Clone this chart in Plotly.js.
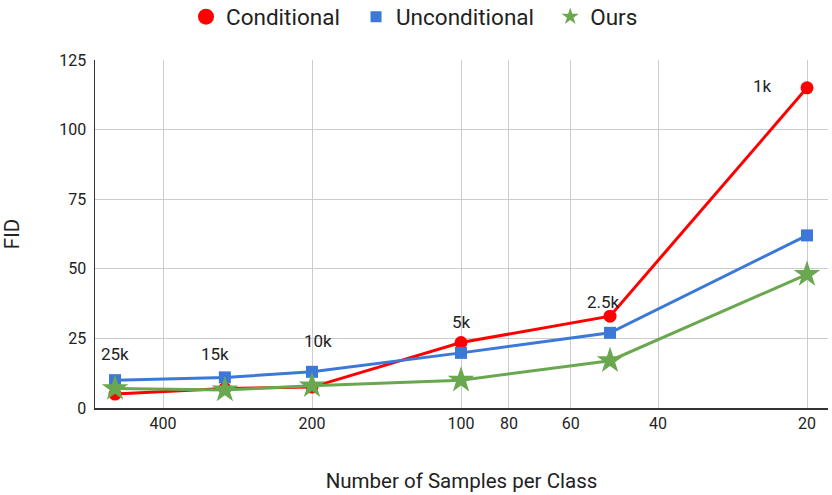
<!DOCTYPE html>
<html>
<head>
<meta charset="utf-8">
<script src="https://cdn.plot.ly/plotly-3.0.1.min.js"></script>
<style>html,body{margin:0;padding:0;background:#fff}#chart{width:832px;height:495px}</style>
</head>
<body>
<div id="chart"></div>
<script>
// Data
const samplesPerClass = [500, 300, 200, 100, 50, 20];
const totalLabels = ["25k", "15k", "10k", "5k", "2.5k", "1k"];
const conditional = [5, 7, 7.5, 23.5, 33, 115];
const unconditional = [10, 11, 13, 19.8, 27, 62];
const ours = [7, 6.5, 8, 10, 17, 48];
const seriesNames = ["Conditional", "Unconditional", "Ours"];
const xTicks = [400, 200, 100, 80, 60, 40, 20];
const yTicks = [0, 25, 50, 75, 100, 125];

const FONT = "Roboto, Arial, sans-serif";
const RED = "#ff0000", BLUE = "#3c78d8", GREEN = "#6aa84f";

function line(name, y, color, symbol, size) {
  return {x: samplesPerClass, y: y, name: name, type: "scatter", mode: "lines+markers",
    line: {color: color, width: 3}, marker: {color: color, symbol: symbol, size: size},
    showlegend: false, hoverinfo: "x+y"};
}
function legendItem(name, color, symbol, size) {
  return {x: [null], y: [null], name: name, type: "scatter", mode: "markers",
    marker: {color: color, symbol: symbol, size: size}, showlegend: true};
}
const NB = "\u00a0\u00a0";
const traces = [
  line(seriesNames[0], conditional, RED, "circle", 13),
  line(seriesNames[1], unconditional, BLUE, "square", 12),
  line(seriesNames[2], ours, GREEN, "star", 20),
  legendItem(seriesNames[0] + NB, RED, "circle", 16),
  legendItem(seriesNames[1] + NB, BLUE, "square", 11),
  legendItem(seriesNames[2], GREEN, "star", 13)
];

// label offsets (pixels) relative to the top-most point at each x
const shifts = [[0, 26], [-10, 23], [6, 31], [0, 21], [-7, 14], [-45, 2]];
const annotations = samplesPerClass.map((s, i) => ({
  x: Math.log10(s), y: Math.max(conditional[i], unconditional[i], ours[i]),
  xref: "x", yref: "y", text: totalLabels[i], showarrow: false,
  xshift: shifts[i][0], yshift: shifts[i][1],
  font: {family: FONT, size: 17, color: "#222"}
}));

const logL = Math.log10(400) + 68 / 495;
const logR = logL - 733 / 495;

const layout = {
  width: 832, height: 495,
  margin: {l: 95, r: 4, t: 60, b: 87},
  paper_bgcolor: "#fff", plot_bgcolor: "#fff",
  font: {family: FONT, size: 16, color: "#222"},
  showlegend: true,
  legend: {orientation: "h", x: 414.5 / 832, xref: "container", xanchor: "center",
    y: 1 - 17 / 495, yref: "container", yanchor: "middle",
    font: {family: FONT, size: 22.5, color: "#222"}, itemwidth: 30, tracegroupgap: 0},
  xaxis: {type: "log", range: [logL, logR], tickvals: xTicks, ticktext: xTicks.map(String),
    showgrid: true, gridcolor: "#cccccc", gridwidth: 1, zeroline: false,
    showline: true, linecolor: "#333", linewidth: 1.5, ticks: "", ticklen: 0,
    tickfont: {family: FONT, size: 16, color: "#222"},
    title: {text: "Number of Samples per Class", font: {family: FONT, size: 20.5, color: "#222"}, standoff: 42}},
  yaxis: {range: [0, 125], tickvals: yTicks, showgrid: true, gridcolor: "#cccccc", gridwidth: 1,
    zeroline: false, showline: true, linecolor: "#333", linewidth: 1.5, ticks: "",
    tickfont: {family: FONT, size: 16, color: "#222"}, ticklabelstandoff: 4,
    title: {text: "FID", font: {family: FONT, size: 20.5, color: "#222"}, standoff: 38}},
  annotations: annotations
};

Plotly.newPlot("chart", traces, layout, {displayModeBar: false, staticPlot: true});
</script>
</body>
</html>
